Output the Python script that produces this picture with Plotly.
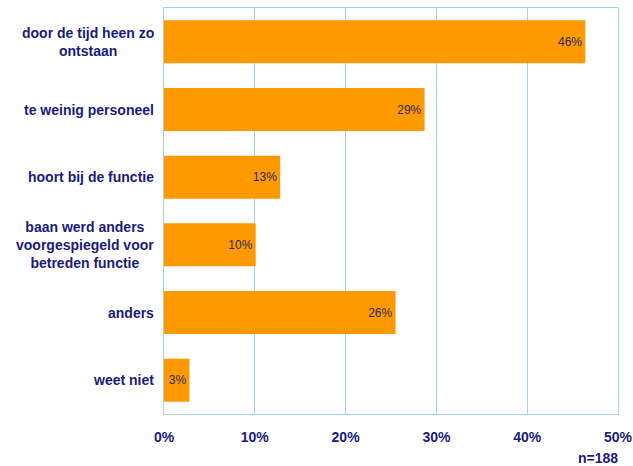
import plotly.graph_objects as go

# Survey answers (n=188), percentages per reason
categories = [
    "door de tijd heen zo<br>ontstaan",
    "te weinig personeel",
    "hoort bij de functie",
    "baan werd anders<br>voorgespiegeld voor<br>betreden functie",
    "anders",
    "weet niet",
]
values = [46.4, 28.7, 12.8, 10.1, 25.5, 2.8]
x_ticks = [0, 10, 20, 30, 40, 50]
x_tick_labels = ["0%", "10%", "20%", "30%", "40%", "50%"]
sample_note = "n=188"

NAVY = "#1A1A7E"
GRID = "#A6CFF5"
BAR = "#FF9900"
FONT = "Liberation Sans, Arial, sans-serif"

fig = go.Figure(
    go.Bar(
        x=values,
        y=categories,
        orientation="h",
        marker=dict(color=BAR, line=dict(width=0)),
        text=[f"{round(v)}%" for v in values],
        textposition="inside",
        insidetextanchor="end",
        textangle=0,
        constraintext="none",
        textfont=dict(family=FONT, size=12, color="#2A2A5E"),
        hoverinfo="skip",
    )
)

# category labels drawn as centred multi-line text left of the plot
for cat in categories:
    fig.add_annotation(
        x=0, xref="paper", y=cat, yref="y",
        text=f"<b>{cat}</b>", showarrow=False,
        xanchor="right", xshift=-8, align="center",
        font=dict(family=FONT, size=14, color=NAVY),
    )

fig.add_annotation(
    x=1, xref="paper", y=0, yref="paper",
    text=f"<b>{sample_note}</b>", showarrow=False,
    xanchor="right", yanchor="middle", yshift=-44, xshift=2,
    font=dict(family=FONT, size=14, color=NAVY),
)

fig.update_layout(
    width=633, height=466,
    margin=dict(l=164, r=15, t=8, b=52),
    paper_bgcolor="white", plot_bgcolor="white",
    bargap=0.365,
    showlegend=False,
    xaxis=dict(
        range=[0, 50], tickvals=x_ticks, ticktext=x_tick_labels,
        automargin=False,
        showgrid=True, gridcolor=GRID, gridwidth=1,
        showline=True, linecolor=GRID, linewidth=1, mirror=True,
        ticks="outside", ticklen=10, tickcolor="rgba(0,0,0,0)",
        tickfont=dict(family=FONT, size=14, color=NAVY, weight="bold"),
        zeroline=False, fixedrange=True,
    ),
    yaxis=dict(
        categoryorder="array", categoryarray=categories, autorange="reversed",
        automargin=False,
        showticklabels=False, showgrid=False,
        showline=True, linecolor=GRID, linewidth=1, mirror=True,
        ticks="", zeroline=False, fixedrange=True,
    ),
)

fig.write_html("out.html")
